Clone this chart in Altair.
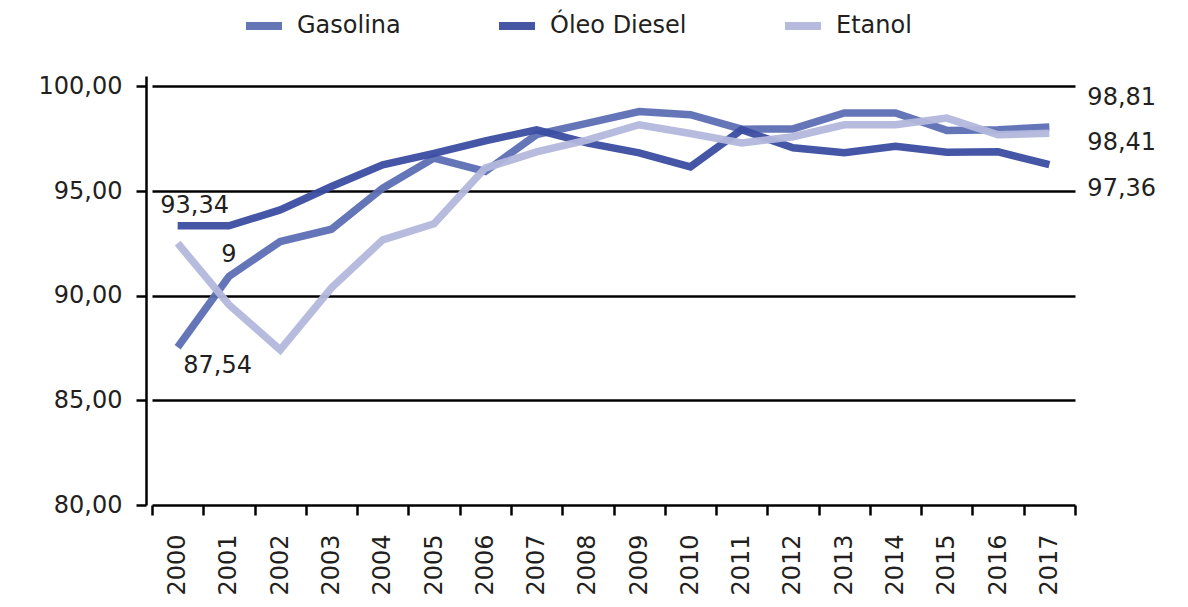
import altair as alt
import pandas as pd

years = [str(y) for y in range(2000, 2018)]
gasolina = [87.54, 90.92, 92.59, 93.18, 95.14, 96.58, 95.94, 97.70, 98.25, 98.80,
            98.65, 97.96, 97.97, 98.73, 98.73, 97.90, 97.93, 98.06]
diesel = [93.34, 93.34, 94.10, 95.22, 96.26, 96.80, 97.40, 97.93, 97.29, 96.83,
          96.16, 97.93, 97.07, 96.83, 97.14, 96.86, 96.88, 96.26]
etanol = [92.51, 89.57, 87.41, 90.38, 92.67, 93.44, 96.10, 96.87, 97.45, 98.17,
          97.75, 97.30, 97.60, 98.17, 98.17, 98.49, 97.69, 97.77]

series_names = ["Gasolina", "Óleo Diesel", "Etanol"]
series_colors = ["#5d6fb4", "#3a4da0", "#b3b7dc"]
y_ticks = [80, 85, 90, 95, 100]

# annotations (text, year, value)
ann_a_text, ann_a_year, ann_a_val = ["93,34"], ["2000"], [94.30]
ann_b_text, ann_b_year, ann_b_val = ["9"], ["2001"], [91.95]
ann_c_text, ann_c_year, ann_c_val = ["87,54"], ["2000"], [86.65]
ann_r_text = ["98,81", "98,41", "97,36"]
ann_r_year = ["2017", "2017", "2017"]
ann_r_val = [99.46, 97.31, 95.11]

FONT = "DejaVu Sans"
TXT = "#231f20"

rows = []
for name, vals in zip(series_names, [gasolina, diesel, etanol]):
    for yr, v in zip(years, vals):
        rows.append({"year": yr, "serie": name, "value": v})
df = pd.DataFrame(rows)

x_scale = alt.Scale(type="band", domain=years, range=[6, 929], paddingInner=0, paddingOuter=0)
y_scale = alt.Scale(domain=[80, 100.5], nice=False, zero=False)

lines = alt.Chart(df).mark_line(strokeWidth=7.5, strokeCap="butt", strokeJoin="miter", opacity=0.95).encode(
    x=alt.X("year:O", scale=x_scale, axis=alt.Axis(
        title=None, labelAngle=-90, labelAlign="right", labelBaseline="middle",
        labelFontSize=24, labelFont=FONT, labelColor=TXT, labelPadding=19,
        tickBand="extent", tickSize=10, tickWidth=2.5, tickColor="black",
        domain=False, grid=False)),
    y=alt.Y("value:Q", scale=y_scale, axis=alt.Axis(
        title=None, values=y_ticks,
        labelExpr="replace(format(datum.value, '.2f'), '.', ',')",
        labelFontSize=24, labelFont=FONT, labelColor=TXT, labelPadding=14,
        tickSize=10, tickWidth=2.5, tickColor="black",
        domainColor="black", domainWidth=2.5,
        grid=True, gridColor="black", gridWidth=2.5, gridOpacity=1)),
    color=alt.Color("serie:N", sort=series_names,
                    scale=alt.Scale(domain=series_names, range=series_colors),
                    legend=alt.Legend(title=None, orient="none", direction="horizontal",
                                      legendX=96, legendY=-72,
                                      symbolType="stroke", symbolSize=1296, symbolStrokeWidth=8,
                                      labelFontSize=24, labelFont=FONT, labelColor=TXT,
                                      labelOffset=11, columnPadding=82, padding=0)),
)


def ann_layer(texts, yrs, vals, align, dx):
    d = pd.DataFrame({"label": texts, "year": yrs, "value": vals})
    return alt.Chart(d).mark_text(font=FONT, fontSize=24, color=TXT, align=align,
                                  baseline="middle", dx=dx).encode(
        x=alt.X("year:O", scale=x_scale),
        y=alt.Y("value:Q", scale=y_scale),
        text="label:N",
    )


chart = alt.layer(
    lines,
    ann_layer(ann_a_text, ann_a_year, ann_a_val, "center", 17),
    ann_layer(ann_b_text, ann_b_year, ann_b_val, "center", 0),
    ann_layer(ann_c_text, ann_c_year, ann_c_val, "center", 40),
    ann_layer(ann_r_text, ann_r_year, ann_r_val, "left", 38),
).properties(
    width=929, height=429,
    autosize=alt.AutoSizeParams(type="none"),
    padding={"left": 138, "top": 68, "right": 100, "bottom": 94},
).configure(background="white").configure_view(stroke=None)

chart.save("out.html", embed_options={"renderer": "svg", "actions": False})
